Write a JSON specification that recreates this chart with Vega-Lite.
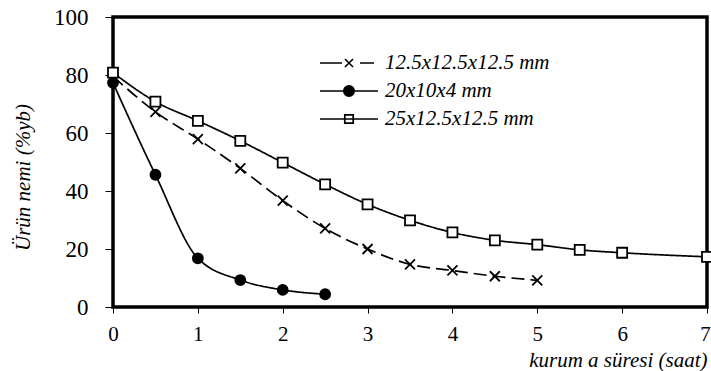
{
  "$schema": "https://vega.github.io/schema/vega-lite/v6.json",
  "width": 594,
  "height": 290,
  "autosize": "none",
  "padding": {"left": 113, "top": 17, "right": 4, "bottom": 64},
  "background": "white",
  "config": {"view": {"stroke": "black", "strokeWidth": 3.5}, "font": "Liberation Serif"},
  "data": {
    "values": [
      {"series": "12.5x12.5x12.5 mm", "t": 0, "m": 79.5},
      {"series": "12.5x12.5x12.5 mm", "t": 0.5, "m": 67.3},
      {"series": "12.5x12.5x12.5 mm", "t": 1, "m": 57.9},
      {"series": "12.5x12.5x12.5 mm", "t": 1.5, "m": 47.8},
      {"series": "12.5x12.5x12.5 mm", "t": 2, "m": 36.7},
      {"series": "12.5x12.5x12.5 mm", "t": 2.5, "m": 27.1},
      {"series": "12.5x12.5x12.5 mm", "t": 3, "m": 20.0},
      {"series": "12.5x12.5x12.5 mm", "t": 3.5, "m": 14.7},
      {"series": "12.5x12.5x12.5 mm", "t": 4, "m": 12.6},
      {"series": "12.5x12.5x12.5 mm", "t": 4.5, "m": 10.6},
      {"series": "12.5x12.5x12.5 mm", "t": 5, "m": 9.2},
      {"series": "20x10x4 mm", "t": 0, "m": 77.3},
      {"series": "20x10x4 mm", "t": 0.5, "m": 45.6},
      {"series": "20x10x4 mm", "t": 1, "m": 16.8},
      {"series": "20x10x4 mm", "t": 1.5, "m": 9.3},
      {"series": "20x10x4 mm", "t": 2, "m": 5.9},
      {"series": "20x10x4 mm", "t": 2.5, "m": 4.4},
      {"series": "25x12.5x12.5 mm", "t": 0, "m": 80.8},
      {"series": "25x12.5x12.5 mm", "t": 0.5, "m": 70.8},
      {"series": "25x12.5x12.5 mm", "t": 1, "m": 64.2},
      {"series": "25x12.5x12.5 mm", "t": 1.5, "m": 57.3},
      {"series": "25x12.5x12.5 mm", "t": 2, "m": 49.8},
      {"series": "25x12.5x12.5 mm", "t": 2.5, "m": 42.3},
      {"series": "25x12.5x12.5 mm", "t": 3, "m": 35.4},
      {"series": "25x12.5x12.5 mm", "t": 3.5, "m": 29.9},
      {"series": "25x12.5x12.5 mm", "t": 4, "m": 25.7},
      {"series": "25x12.5x12.5 mm", "t": 4.5, "m": 23.0},
      {"series": "25x12.5x12.5 mm", "t": 5, "m": 21.5},
      {"series": "25x12.5x12.5 mm", "t": 5.5, "m": 19.7},
      {"series": "25x12.5x12.5 mm", "t": 6, "m": 18.7},
      {"series": "25x12.5x12.5 mm", "t": 7, "m": 17.3}
    ]
  },
  "encoding": {
    "x": {
      "field": "t", "type": "quantitative",
      "scale": {"domain": [0, 7], "nice": false},
      "axis": {
        "values": [0, 1, 2, 3, 4, 5, 6, 7], "grid": false, "domain": false,
        "tickColor": "black", "tickSize": 6, "tickWidth": 1,
        "labelFont": "Liberation Serif", "labelFontSize": 21, "labelColor": "black",
        "labelPadding": 10, "labelFlush": false, "labelOverlap": false,
        "labelOffset": {"condition": {"test": "datum.value === 7", "value": -2}, "value": 0},
        "title": "kurum a süresi (saat)", "titleFont": "Liberation Serif", "titleFontStyle": "italic",
        "titleFontWeight": "normal", "titleFontSize": 21, "titleColor": "black",
        "titleAnchor": "end", "titleAlign": "right", "titleX": 594, "titleY": 59, "titleBaseline": "alphabetic"
      }
    },
    "y": {
      "field": "m", "type": "quantitative",
      "scale": {"domain": [0, 100], "nice": false},
      "axis": {
        "values": [0, 20, 40, 60, 80, 100], "grid": false, "domain": false,
        "tickColor": "black", "tickSize": 8, "tickWidth": 1,
        "labelFont": "Liberation Serif", "labelFontSize": 23, "labelColor": "black",
        "labelPadding": 17, "labelFlush": false, "labelOverlap": false,
        "title": "Ürün nemi (%yb)", "titleFont": "Liberation Serif", "titleFontStyle": "italic",
        "titleFontWeight": "normal", "titleFontSize": 21, "titleColor": "black",
        "titleX": -84, "titleY": 160, "titleBaseline": "alphabetic", "titleAngle": -90
      }
    }
  },
  "layer": [
    {
      "mark": {"type": "line", "interpolate": "monotone", "color": "black", "strokeWidth": 1.7},
      "encoding": {
        "detail": {"field": "series", "type": "nominal"},
        "strokeDash": {"condition": {"test": "datum.series === '12.5x12.5x12.5 mm'", "value": [13, 6]}, "value": [1, 0]}
      }
    },
    {
      "mark": {"type": "point", "filled": true, "opacity": 1, "stroke": "black", "strokeWidth": 1.8, "size": 100},
      "encoding": {
        "fill": {"condition": {"test": "datum.series === '20x10x4 mm'", "value": "black"}, "value": "white"},
        "shape": {
          "condition": [
            {"test": "datum.series === '20x10x4 mm'", "value": "circle"},
            {"test": "datum.series === '25x12.5x12.5 mm'", "value": "square"}
          ],
          "value": "M-1,-1L1,1M-1,1L1,-1"
        }
      }
    },
    {
      "transform": [{"filter": "false"}],
      "mark": {"type": "point", "filled": true, "opacity": 1, "strokeWidth": 1.7, "size": 400},
      "encoding": {
        "fill": {
          "field": "series", "type": "nominal",
          "scale": {"domain": ["12.5x12.5x12.5 mm", "20x10x4 mm", "25x12.5x12.5 mm"], "range": ["white", "black", "white"]},
          "legend": {
            "orient": "none", "legendX": 225, "legendY": 35, "title": null, "padding": 0,
            "symbolSize": 400, "symbolStrokeWidth": 1.7, "symbolStrokeColor": "black", "symbolOpacity": 1,
            "labelOffset": 25, "rowPadding": 7,
            "labelFont": "Liberation Serif", "labelFontStyle": "italic", "labelFontSize": 21,
            "labelColor": "black", "labelLimit": 300
          }
        },
        "stroke": {
          "field": "series", "type": "nominal",
          "scale": {"domain": ["12.5x12.5x12.5 mm", "20x10x4 mm", "25x12.5x12.5 mm"], "range": ["black", "black", "black"]},
          "legend": {
            "orient": "none", "legendX": 225, "legendY": 35, "title": null, "padding": 0,
            "symbolSize": 400, "symbolStrokeWidth": 1.7, "symbolStrokeColor": "black", "symbolOpacity": 1,
            "labelOffset": 25, "rowPadding": 7,
            "labelFont": "Liberation Serif", "labelFontStyle": "italic", "labelFontSize": 21,
            "labelColor": "black", "labelLimit": 300
          }
        },
        "shape": {
          "field": "series", "type": "nominal",
          "scale": {
            "domain": ["12.5x12.5x12.5 mm", "20x10x4 mm", "25x12.5x12.5 mm"],
            "range": [
              "M-2.9,0H-0.7M1.1,0H2.5M-0.4,-0.4L0.4,0.4M-0.4,0.4L0.4,-0.4",
              "M-2.9,0H2.9M-0.52,0A0.52,0.52 0 1,0 0.52,0A0.52,0.52 0 1,0 -0.52,0",
              "M-2.9,0H2.9M-0.42,-0.42H0.42V0.42H-0.42Z"
            ]
          },
          "legend": {
            "orient": "none", "legendX": 225, "legendY": 35, "title": null, "padding": 0,
            "symbolSize": 400, "symbolStrokeWidth": 1.7, "symbolStrokeColor": "black", "symbolOpacity": 1,
            "labelOffset": 25, "rowPadding": 7,
            "labelFont": "Liberation Serif", "labelFontStyle": "italic", "labelFontSize": 21,
            "labelColor": "black", "labelLimit": 300
          }
        }
      }
    }
  ]
}
